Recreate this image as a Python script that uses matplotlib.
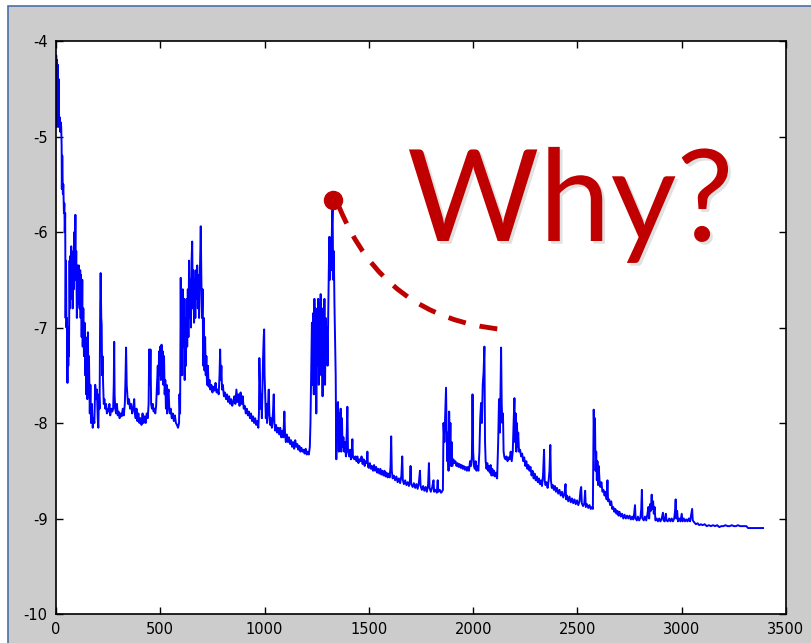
import numpy as np
import matplotlib
matplotlib.use("Agg")
import matplotlib.pyplot as plt
from matplotlib.patches import Rectangle, PathPatch
from matplotlib.path import Path
import matplotlib.patheffects as pe

plt.rcParams['axes.unicode_minus'] = False

#%% training curve, read off as (iteration, value) vertices, grouped by region
start = [(0, -4.85), (1, -4.15), (3, -4.9), (5, -4.2), (7, -4.5), (9, -4.25), (11, -4.9),
         (13, -4.4), (15, -4.85), (18, -4.8), (20, -4.95), (22, -4.85), (25, -4.9), (27, -5.1),
         (28, -5.55), (30, -5.2), (33, -5.6), (35, -5.5), (38, -5.8), (40, -5.7), (42, -6.0),
         (44, -5.8), (46, -6.9), (48, -6.3), (50, -7.0), (52, -6.9), (54, -7.3), (55, -7.58),
         (57, -7.1), (59, -7.4), (60, -7.0), (62, -7.3)]

first_bump = [(65, -6.3), (67, -6.8), (69, -6.25), (71, -6.7), (73, -6.15), (75, -6.6), (78, -6.3),
              (80, -6.8), (83, -6.2), (85, -6.6), (88, -6.0), (90, -6.5), (93, -5.82), (95, -6.5),
              (97, -6.2), (100, -6.9), (103, -6.35), (106, -6.75), (110, -6.35), (113, -6.8),
              (116, -6.4), (118, -6.9), (120, -6.45), (123, -7.1), (126, -6.5), (128, -7.2),
              (131, -6.8), (134, -7.3), (137, -6.95), (140, -7.5), (142, -7.1), (145, -7.7),
              (148, -7.2), (150, -7.75), (153, -7.05), (156, -7.7), (158, -7.3), (162, -7.9),
              (165, -7.6), (168, -8.0), (172, -7.8), (176, -8.05), (180, -7.95), (184, -8.0),
              (188, -7.6), (192, -7.75), (196, -7.65), (200, -7.95), (203, -8.05), (206, -7.7),
              (209, -7.85), (212, -6.75), (214, -6.43), (217, -6.9), (219, -6.97), (221, -7.5),
              (223, -7.3), (226, -7.6), (229, -7.8)]

plateau_1 = [(232, -7.75), (236, -7.85), (240, -7.8), (244, -7.9), (248, -7.85), (252, -7.88),
             (256, -7.8), (260, -7.92), (265, -7.85), (270, -7.88), (274, -7.85), (277, -7.6),
             (279, -7.15), (281, -7.7), (284, -7.85), (288, -7.9), (292, -7.8), (296, -7.92),
             (300, -7.88), (305, -7.95), (310, -7.9), (315, -7.93), (320, -7.85), (325, -7.92),
             (330, -7.8), (333, -7.55), (336, -7.21), (339, -7.6), (342, -7.7), (345, -7.8),
             (350, -7.75), (355, -7.85), (360, -7.8), (365, -7.9), (370, -7.85), (375, -7.75),
             (378, -7.9), (382, -7.95), (386, -7.85), (390, -7.98), (395, -7.9), (400, -8.0),
             (405, -7.95), (410, -8.02), (415, -7.9), (420, -8.0), (425, -7.93), (430, -8.0),
             (435, -7.9), (440, -7.95), (444, -7.8), (447, -7.23), (450, -7.6), (453, -7.23),
             (456, -7.8), (460, -7.85), (464, -7.8), (468, -7.88), (472, -7.85), (476, -7.9),
             (480, -7.82), (484, -7.6), (488, -7.4), (491, -7.7), (494, -7.25), (497, -7.5),
             (500, -7.2), (503, -7.55), (506, -7.18), (509, -7.4), (512, -7.25), (515, -7.6),
             (518, -7.3), (521, -7.7), (524, -7.55), (527, -7.85), (530, -7.6), (533, -7.9),
             (536, -7.7), (540, -7.65), (543, -7.85), (546, -7.9), (550, -7.85), (555, -7.95),
             (560, -7.9), (565, -7.98), (570, -7.92), (575, -8.0), (580, -8.02), (585, -8.05),
             (590, -8.0)]

second_bump = [(592, -7.7), (595, -7.9), (598, -6.48), (600, -7.3), (603, -6.8), (605, -7.5),
               (608, -6.6), (611, -7.2), (614, -6.7), (617, -7.55), (620, -6.9), (623, -7.4),
               (626, -6.7), (629, -7.2), (632, -6.6), (635, -7.1), (638, -6.3), (641, -6.9),
               (644, -6.5), (647, -7.0), (650, -6.3), (653, -6.1), (656, -6.8), (659, -6.4),
               (662, -6.95), (665, -6.5), (668, -6.9), (671, -6.4), (674, -6.7), (677, -6.35),
               (680, -6.8), (683, -6.45), (686, -6.9), (689, -6.5), (692, -6.2), (694, -5.94),
               (697, -6.5), (700, -6.9), (703, -6.6), (706, -7.4), (709, -6.9), (712, -7.45),
               (715, -7.1), (718, -7.5), (721, -7.3), (724, -7.6), (728, -7.4)]

plateau_2 = [(732, -7.62), (736, -7.55), (740, -7.65), (745, -7.6), (750, -7.68), (755, -7.62),
             (760, -7.66), (765, -7.58), (770, -7.68), (775, -7.65), (780, -7.7), (784, -7.5),
             (787, -7.23), (790, -7.55), (793, -7.4), (796, -7.65), (800, -7.6), (805, -7.72),
             (810, -7.68), (815, -7.75), (820, -7.7), (825, -7.78), (830, -7.72), (835, -7.8),
             (840, -7.75), (845, -7.82), (850, -7.78), (855, -7.72), (860, -7.8), (865, -7.65),
             (870, -7.78), (875, -7.7), (880, -7.82), (885, -7.68), (890, -7.8), (895, -7.72),
             (900, -7.85), (905, -7.82), (910, -7.9), (915, -7.85), (920, -7.92), (925, -7.88),
             (930, -7.95), (935, -7.9), (940, -7.98), (945, -7.93), (950, -8.0), (955, -7.95),
             (960, -8.02), (965, -7.98), (970, -8.05), (973, -7.9), (975, -7.32), (978, -7.6),
             (981, -7.85), (984, -7.7), (987, -7.95), (990, -7.6), (993, -7.3), (996, -7.1),
             (998, -7.02), (1000, -7.5), (1003, -7.7), (1006, -7.95), (1009, -7.8), (1012, -8.0),
             (1016, -7.85), (1020, -7.65), (1023, -7.9), (1027, -8.02), (1031, -7.95),
             (1035, -8.05), (1040, -7.9), (1044, -7.7), (1047, -8.0), (1051, -8.08), (1055, -8.02),
             (1060, -8.1), (1065, -8.05), (1070, -8.12), (1075, -8.05), (1080, -8.15),
             (1085, -8.08), (1090, -8.15), (1095, -7.88), (1098, -8.1), (1102, -8.2),
             (1107, -8.12), (1112, -8.2), (1117, -8.15), (1122, -8.22), (1127, -8.18),
             (1132, -8.25), (1137, -8.2), (1142, -8.27), (1147, -8.18), (1152, -8.25),
             (1157, -8.22), (1162, -8.28), (1167, -8.24), (1172, -8.3), (1177, -8.26),
             (1182, -8.3), (1187, -8.28), (1192, -8.32), (1197, -8.27), (1202, -8.33),
             (1207, -8.3), (1212, -8.33), (1217, -8.25)]

big_spike = [(1220, -8.0), (1224, -7.4), (1227, -6.95), (1230, -7.6), (1233, -6.85), (1236, -7.7),
             (1239, -6.7), (1242, -7.5), (1245, -6.8), (1248, -7.9), (1251, -6.9), (1254, -7.4),
             (1257, -6.7), (1260, -7.6), (1263, -6.75), (1266, -7.3), (1269, -6.65), (1272, -7.5),
             (1275, -6.8), (1278, -7.72), (1281, -6.85), (1284, -7.35), (1287, -6.7), (1290, -7.6),
             (1293, -6.9), (1296, -7.2), (1299, -7.0), (1302, -7.4), (1305, -6.9), (1308, -6.4),
             (1311, -6.05), (1314, -6.5), (1317, -6.1), (1320, -6.4), (1323, -5.95), (1326, -5.72),
             (1329, -6.5), (1332, -6.2), (1335, -6.75), (1338, -7.1), (1341, -7.5), (1344, -8.38),
             (1347, -7.8), (1350, -8.2), (1352, -7.78), (1356, -8.3), (1359, -7.9), (1362, -8.2),
             (1365, -7.85), (1368, -8.3), (1371, -7.95), (1374, -8.25), (1378, -8.15),
             (1382, -8.3), (1386, -8.2), (1390, -8.35), (1394, -8.1), (1397, -7.83),
             (1400, -8.3), (1406, -8.35), (1410, -8.28), (1414, -8.38), (1418, -8.3),
             (1421, -8.17), (1424, -8.36), (1430, -8.38), (1435, -8.35), (1440, -8.4)]

plateau_3 = [(1445, -8.35), (1450, -8.42), (1455, -8.38), (1460, -8.4), (1465, -8.35), (1470, -8.43),
             (1475, -8.38), (1480, -8.45), (1485, -8.4), (1490, -8.42), (1493, -8.3), (1496, -8.46),
             (1500, -8.47), (1505, -8.42), (1510, -8.48), (1515, -8.45), (1520, -8.5),
             (1525, -8.44), (1530, -8.5), (1535, -8.46), (1540, -8.52), (1545, -8.48),
             (1550, -8.53), (1555, -8.48), (1560, -8.54), (1565, -8.5), (1570, -8.55),
             (1575, -8.5), (1580, -8.56), (1585, -8.52), (1590, -8.57), (1595, -8.53),
             (1600, -8.57), (1604, -8.45), (1607, -8.14), (1610, -8.5), (1614, -8.58),
             (1620, -8.55), (1626, -8.6), (1632, -8.56), (1638, -8.62), (1644, -8.58),
             (1650, -8.63), (1656, -8.55), (1660, -8.35), (1663, -8.6), (1668, -8.64),
             (1674, -8.6), (1680, -8.65), (1686, -8.62), (1692, -8.66), (1697, -8.6),
             (1700, -8.45), (1703, -8.64), (1710, -8.67), (1716, -8.63), (1722, -8.68),
             (1728, -8.64), (1734, -8.69), (1740, -8.62), (1745, -8.5), (1748, -8.66),
             (1754, -8.7), (1760, -8.66), (1766, -8.71), (1772, -8.67), (1778, -8.72),
             (1784, -8.65), (1788, -8.42), (1791, -8.68), (1797, -8.72), (1803, -8.68),
             (1810, -8.6), (1813, -8.72), (1820, -8.7), (1826, -8.73), (1830, -8.6),
             (1833, -8.72), (1840, -8.7), (1846, -8.73), (1850, -8.72), (1855, -8.7)]

third_bump = [(1858, -8.0), (1862, -8.2), (1866, -7.9), (1870, -7.63), (1873, -8.1), (1876, -8.4),
              (1879, -8.1), (1882, -8.5), (1885, -7.88), (1888, -8.3), (1891, -8.0), (1894, -8.45),
              (1897, -8.2), (1900, -8.45), (1905, -8.38), (1910, -8.42), (1915, -8.4),
              (1920, -8.45), (1925, -8.42), (1930, -8.46), (1935, -8.43), (1940, -8.47),
              (1945, -8.44), (1950, -8.48), (1955, -8.45), (1960, -8.49), (1965, -8.46),
              (1970, -8.5), (1975, -8.46), (1980, -8.5), (1985, -8.4), (1990, -8.45),
              (1994, -8.35), (1997, -7.7), (2000, -8.3), (2004, -8.45), (2008, -8.48),
              (2012, -8.4), (2016, -8.5), (2020, -8.45), (2025, -8.5), (2030, -8.3),
              (2034, -7.95), (2038, -7.79), (2042, -8.0), (2046, -7.6), (2050, -7.47),
              (2054, -7.2), (2057, -8.2), (2060, -8.4), (2064, -8.48), (2068, -8.42),
              (2072, -8.5), (2076, -8.45), (2080, -8.52), (2084, -8.44), (2088, -8.55),
              (2092, -8.48), (2096, -8.55), (2100, -8.5), (2105, -8.56), (2110, -8.52),
              (2115, -8.58), (2120, -8.2), (2124, -7.75), (2128, -8.1), (2131, -7.7),
              (2134, -7.21), (2137, -7.8), (2140, -8.0), (2143, -7.9), (2146, -8.3),
              (2150, -8.36), (2155, -8.38), (2160, -8.35), (2165, -8.4), (2170, -8.36),
              (2175, -8.38), (2180, -8.3), (2185, -8.4), (2190, -8.3), (2194, -8.0),
              (2198, -7.74), (2201, -8.2), (2204, -7.9), (2207, -8.3), (2210, -8.0),
              (2213, -8.25), (2216, -8.1), (2220, -8.3)]

plateau_4 = [(2225, -8.28), (2230, -8.35), (2235, -8.32), (2240, -8.4), (2245, -8.36), (2250, -8.45),
             (2255, -8.4), (2260, -8.48), (2265, -8.44), (2270, -8.5), (2275, -8.46), (2280, -8.55),
             (2285, -8.5), (2290, -8.58), (2295, -8.53), (2300, -8.6), (2305, -8.56), (2310, -8.62),
             (2315, -8.58), (2320, -8.64), (2325, -8.6), (2330, -8.66), (2335, -8.55),
             (2340, -8.28), (2343, -8.6), (2347, -8.65), (2352, -8.62), (2357, -8.68),
             (2362, -8.6), (2366, -8.5), (2370, -8.23), (2373, -8.6), (2377, -8.68),
             (2382, -8.65), (2387, -8.7), (2392, -8.66), (2397, -8.72), (2402, -8.68),
             (2408, -8.74), (2414, -8.7), (2420, -8.76), (2426, -8.72), (2432, -8.78),
             (2438, -8.74), (2443, -8.64), (2446, -8.8), (2450, -8.76), (2456, -8.82),
             (2462, -8.77), (2468, -8.83), (2474, -8.79), (2480, -8.84), (2486, -8.8),
             (2492, -8.85), (2498, -8.81), (2504, -8.86), (2510, -8.82), (2515, -8.7),
             (2518, -8.67), (2521, -8.84), (2527, -8.87), (2533, -8.84), (2537, -8.71),
             (2540, -8.88), (2546, -8.85), (2552, -8.89), (2558, -8.86), (2564, -8.9),
             (2570, -8.88), (2574, -8.9)]

tail = [(2576, -8.4), (2578, -7.86), (2581, -8.2), (2584, -7.95), (2587, -8.5), (2590, -8.3),
        (2593, -8.6), (2596, -8.4), (2599, -8.65), (2602, -8.45), (2606, -8.6), (2610, -8.67),
        (2615, -8.62), (2620, -8.72), (2625, -8.7), (2630, -8.76), (2635, -8.72), (2640, -8.8),
        (2644, -8.6), (2647, -8.82), (2652, -8.8), (2657, -8.86), (2662, -8.82), (2667, -8.9),
        (2672, -8.88), (2677, -8.93), (2682, -8.9), (2687, -8.95), (2692, -8.92), (2697, -8.97),
        (2702, -8.93), (2708, -8.98), (2714, -8.95), (2720, -9.0), (2726, -8.96), (2732, -9.0),
        (2738, -8.97), (2744, -9.0), (2750, -8.97), (2756, -9.01), (2762, -8.98), (2768, -9.01),
        (2772, -8.95), (2776, -8.86), (2779, -9.0), (2785, -9.02), (2790, -8.98), (2796, -9.02),
        (2802, -8.99), (2806, -8.9), (2809, -8.7), (2812, -9.0), (2818, -9.02), (2824, -8.98),
        (2830, -9.02), (2836, -8.95), (2840, -8.88), (2844, -9.0), (2848, -8.85), (2852, -8.92),
        (2856, -8.75), (2859, -8.9), (2863, -8.82), (2866, -8.95), (2870, -8.88), (2874, -9.02),
        (2880, -9.0), (2886, -9.03), (2892, -9.0), (2898, -9.03), (2904, -9.0), (2910, -8.94),
        (2913, -9.02), (2918, -9.03), (2924, -8.95), (2927, -9.02), (2933, -9.03), (2940, -9.0),
        (2946, -9.03), (2952, -9.0), (2958, -9.03), (2964, -9.0), (2968, -8.92), (2971, -8.8),
        (2974, -9.0), (2978, -8.92), (2982, -9.03), (2988, -9.0), (2994, -9.03), (3000, -8.95),
        (3004, -9.03), (3010, -9.0), (3016, -9.03), (3022, -9.01), (3028, -9.03), (3034, -9.0),
        (3040, -9.03), (3046, -8.95), (3050, -8.9), (3053, -9.02), (3060, -9.04), (3068, -9.06),
        (3076, -9.05), (3084, -9.07), (3092, -9.06), (3100, -9.07), (3110, -9.06), (3120, -9.08),
        (3130, -9.07), (3140, -9.08), (3150, -9.07), (3160, -9.08), (3170, -9.07), (3180, -9.09),
        (3190, -9.08), (3200, -9.08), (3210, -9.07), (3220, -9.08), (3230, -9.08), (3240, -9.07),
        (3250, -9.08), (3260, -9.08), (3270, -9.07), (3280, -9.08), (3290, -9.08), (3300, -9.08),
        (3310, -9.08), (3318, -9.1), (3330, -9.1), (3345, -9.1), (3360, -9.1), (3375, -9.1),
        (3390, -9.1)]

# marked peak and the dashed arc that falls away from it
peak = (1326, -5.66)
arc = [(1358, -5.74), (1574, -6.9), (2141, -7.02)]   # start, control, end
question = "Why?"

xticks = [0, 500, 1000, 1500, 2000, 2500, 3000, 3500]
yticks = [-10, -9, -8, -7, -6, -5, -4]

#%%
curve = np.array(start + first_bump + plateau_1 + second_bump + plateau_2
                 + big_spike + plateau_3 + third_bump + plateau_4 + tail)

fig = plt.figure(figsize=(8.12, 6.43), dpi=100, facecolor='white')
# grey window with a thin blue frame round it, kept behind the axes
fig.patches.append(Rectangle((8/812, -0.05), 1.1, 1.05 - 6/643,
                             transform=fig.transFigure, facecolor='#cccccc',
                             edgecolor='#4a6ea8', linewidth=1.2, zorder=-10))

ax = fig.add_axes([56/812, 1 - 614/643, 730/812, 573/643])
ax.set_facecolor('white')
ax.plot(curve[:, 0], curve[:, 1], color='#0000ff', linewidth=1.4)

ax.set_xlim(0, 3500)
ax.set_ylim(-10, -4)
ax.set_xticks(xticks)
ax.set_yticks(yticks)
ax.set_xticklabels([str(t) for t in xticks])
ax.set_yticklabels([str(t) for t in yticks])
ax.tick_params(direction='in', top=True, right=True, length=5, width=1,
               labelsize=10.5, pad=6, colors='black')
for lbl in ax.get_xticklabels() + ax.get_yticklabels():
    lbl.set_family(['Liberation Sans Narrow', 'DejaVu Sans'])
for s in ax.spines.values():
    s.set_linewidth(1.2)

# red dot on the peak and dashed arc
ax.plot(*peak, 'o', color='#c00000', markersize=13, zorder=5)
codes = [Path.MOVETO, Path.CURVE3, Path.CURVE3]
ax.add_patch(PathPatch(Path(arc, codes), facecolor='none', edgecolor='#c00000',
                       linewidth=3.5, linestyle=(0, (3.7, 2.9)), capstyle='butt', zorder=5))

fig.text(407/812, 1 - 241/643, question, color='#c00000', fontsize=92,
         family=['Lato', 'DejaVu Sans'], ha='left', va='baseline',
         path_effects=[pe.withSimplePatchShadow(offset=(2, -2), shadow_rgbFace='#888888', alpha=0.25)])

fig.savefig('out.png', dpi=100, facecolor=fig.get_facecolor())
